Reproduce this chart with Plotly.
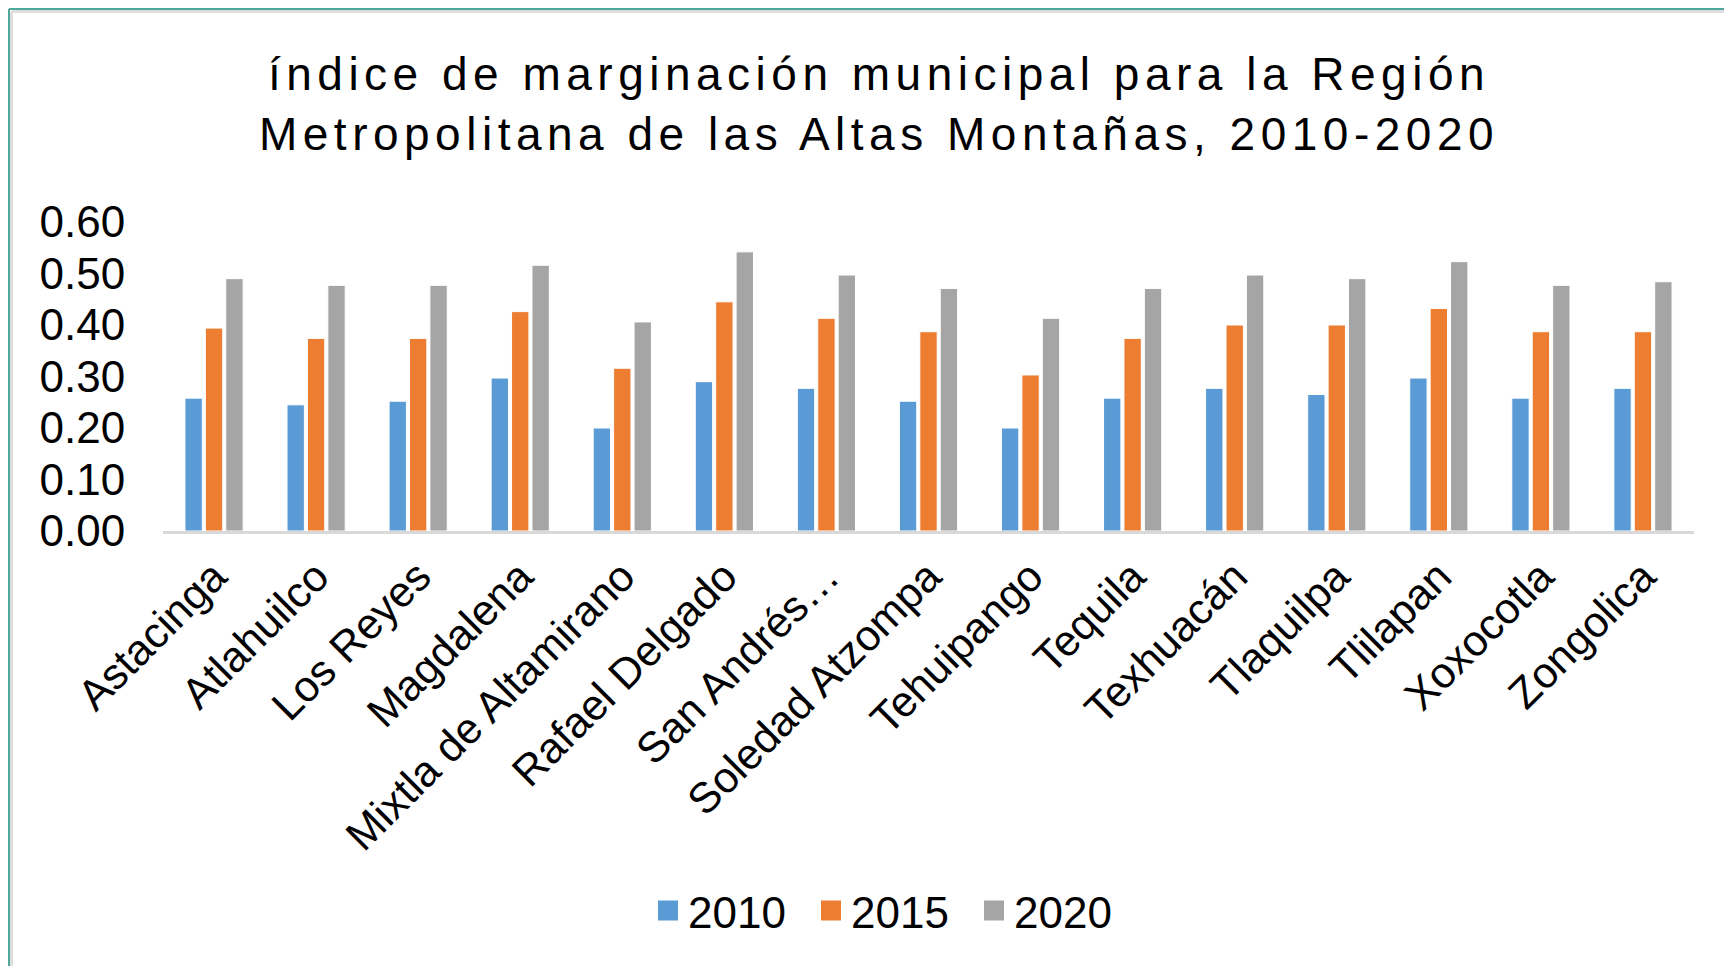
import plotly.graph_objects as go

categories = ["Astacinga", "Atlahuilco", "Los Reyes", "Magdalena", "Mixtla de Altamirano",
              "Rafael Delgado", "San Andrés…", "Soledad Atzompa", "Tehuipango", "Tequila",
              "Texhuacán", "Tlaquilpa", "Tlilapan", "Xoxocotla", "Zongolica"]
v2010 = [0.258, 0.245, 0.252, 0.297, 0.200, 0.290, 0.277, 0.252, 0.200, 0.258,
         0.277, 0.265, 0.297, 0.258, 0.277]
v2015 = [0.394, 0.374, 0.374, 0.426, 0.316, 0.445, 0.413, 0.387, 0.303, 0.374,
         0.400, 0.400, 0.432, 0.387, 0.387]
v2020 = [0.490, 0.477, 0.477, 0.516, 0.406, 0.542, 0.497, 0.471, 0.413, 0.471,
         0.497, 0.490, 0.523, 0.477, 0.484]
series_names = ["2010", "2015", "2020"]
colors = ["#5B9BD5", "#ED7D31", "#A5A5A5"]
yticks = [0.0, 0.1, 0.2, 0.3, 0.4, 0.5, 0.6]
title_lines = ["índice de marginación municipal para la Región",
               "Metropolitana de las Altas Montañas, 2010-2020"]

# figure is placed by the page with an 8px body margin
W, H = 1724, 958
L, R, T, B = 155, 38, 214, 435
pw = W - L - R
ph = H - T - B

def px_x(p):
    return (p - L) / pw

def px_y(p):
    return (H - B - p) / ph

FONT = "Liberation Sans, Arial, sans-serif"

fig = go.Figure()
for name, vals, col in zip(series_names, [v2010, v2015, v2020], colors):
    fig.add_trace(go.Bar(x=categories, y=vals, name=name, marker_color=col,
                         marker_line=dict(color="white", width=1), showlegend=False))
# legend entries with larger square swatches
for name, col in zip(series_names, colors):
    fig.add_trace(go.Scatter(x=[None], y=[None], mode="markers", name=name,
                             marker=dict(symbol="square", size=16, color=col,
                                         line=dict(color=col, width=4)),
                             showlegend=True))

title_text = "<br>".join('<span style="letter-spacing:5.5px">' + t + "</span>" for t in title_lines)

fig.update_layout(
    width=W, height=H,
    margin=dict(l=L, r=R, t=T, b=B, pad=0),
    paper_bgcolor="white", plot_bgcolor="white",
    barmode="group", bargap=0.4, bargroupgap=0.15,
    font=dict(family=FONT, color="black"),
    title=dict(text=title_text,
               x=871 / W, xanchor="center", y=1 - 82.4 / H, yanchor="middle",
               font=dict(size=46, family=FONT, color="black")),
    legend=dict(orientation="h", x=px_x(640), xanchor="left", y=px_y(903), yanchor="middle",
                font=dict(size=44, family=FONT, color="black"), itemwidth=30,
                entrywidth=118, traceorder="normal"),
    showlegend=True,
)
fig.update_xaxes(showline=True, linecolor="#D9D9D9", linewidth=3, showgrid=False,
                 tickangle=-45, tickfont=dict(size=43, family=FONT, color="black"),
                 ticks="", zeroline=False)
fig.update_yaxes(range=[0, 0.6], tickvals=yticks, tickformat=".2f", showgrid=False,
                 zeroline=False, showline=False, ticks="outside", ticklen=28, tickcolor="white",
                 tickfont=dict(size=44, family=FONT, color="black"))

# frame lines (teal border with light grey inner line)
shapes = [
    dict(type="line", xref="paper", yref="paper", x0=px_x(3.5), x1=px_x(3.5), y0=px_y(3.5), y1=px_y(H + 5),
         line=dict(color="#DDDDDD", width=3)),
    dict(type="line", xref="paper", yref="paper", x0=px_x(3.5), x1=px_x(W + 5), y0=px_y(3.5), y1=px_y(3.5),
         line=dict(color="#DDDDDD", width=3)),
    dict(type="line", xref="paper", yref="paper", x0=px_x(1), x1=px_x(1), y0=px_y(1), y1=px_y(H + 5),
         line=dict(color="#4FA89C", width=2)),
    dict(type="line", xref="paper", yref="paper", x0=px_x(1), x1=px_x(W + 5), y0=px_y(1), y1=px_y(1),
         line=dict(color="#4FA89C", width=2)),
]
fig.update_layout(shapes=shapes)

fig.write_html("out.html")
